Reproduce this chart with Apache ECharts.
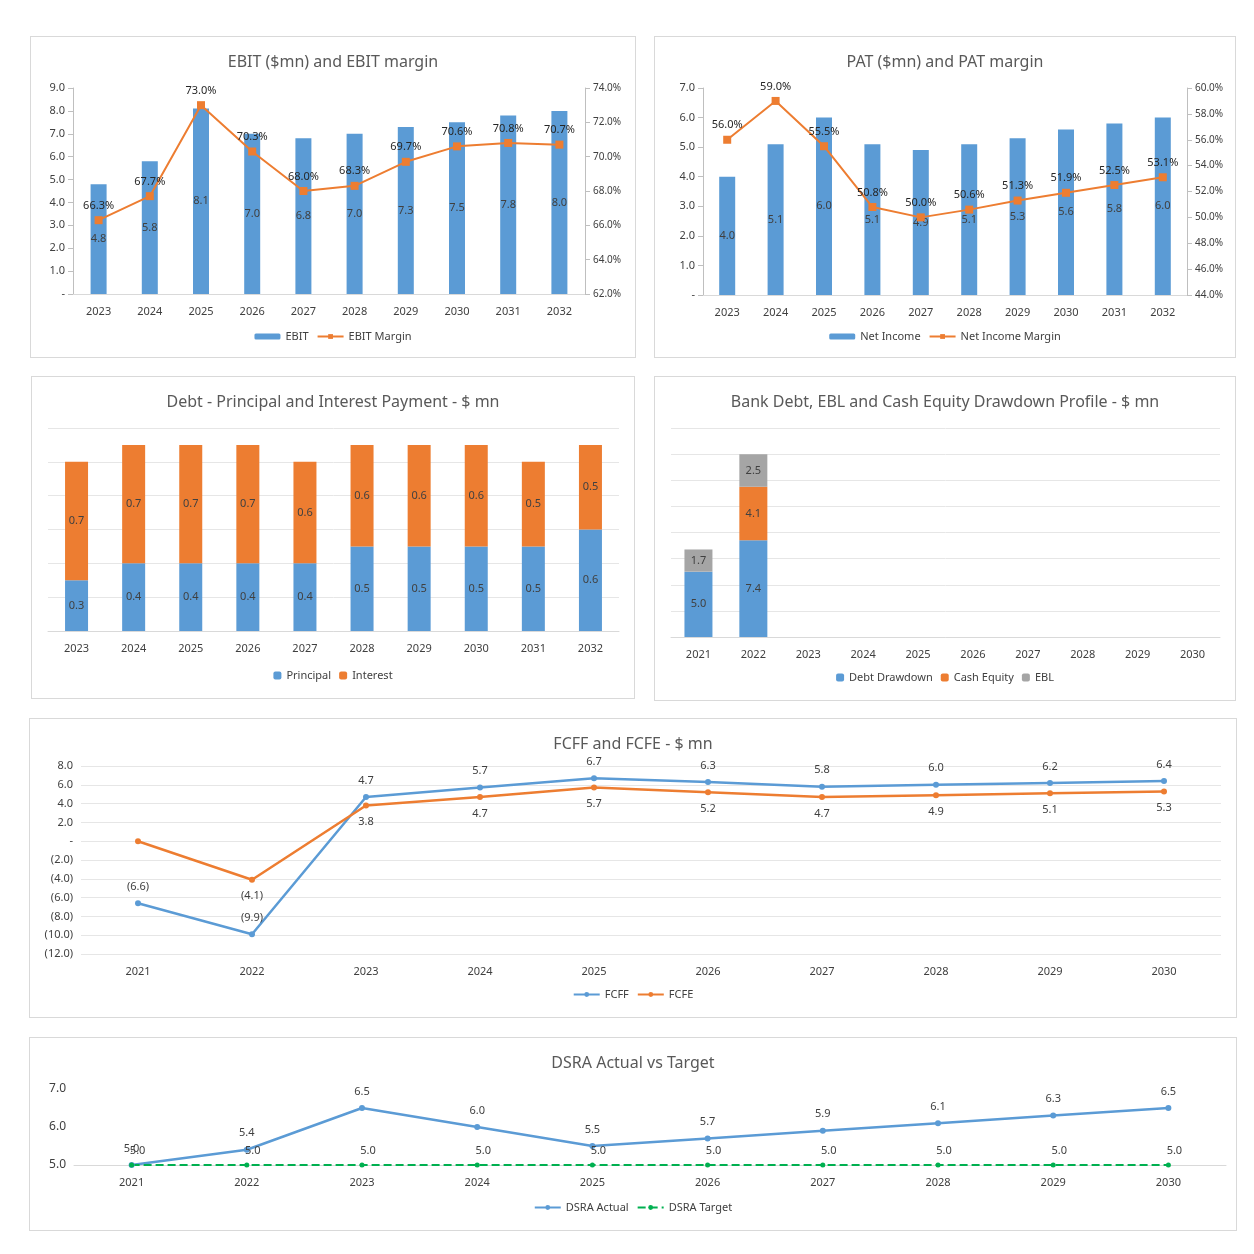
<!DOCTYPE html>
<html>
<head>
<meta charset="utf-8">
<script src="https://cdn.jsdelivr.net/npm/echarts@6/dist/echarts.min.js"></script>
<style>
  body { margin: 0; background: #fff; width: 1254px; height: 1254px; position: relative; }
  .box { position: absolute; border: 1px solid #d9d9d9; box-sizing: border-box; }
</style>
</head>
<body>
<div id="c1" class="box" style="left:30px;top:36px;width:606px;height:322px"></div>
<div id="c2" class="box" style="left:654px;top:36px;width:582px;height:322px"></div>
<div id="c3" class="box" style="left:31px;top:376px;width:604px;height:323px"></div>
<div id="c4" class="box" style="left:654px;top:376px;width:582px;height:325px"></div>
<div id="c5" class="box" style="left:29px;top:718px;width:1208px;height:300px"></div>
<div id="c6" class="box" style="left:29px;top:1037px;width:1208px;height:194px"></div>
<script>
// data
const years23 = ["2023","2024","2025","2026","2027","2028","2029","2030","2031","2032"];
const years21 = ["2021","2022","2023","2024","2025","2026","2027","2028","2029","2030"];
const ebit = [4.8, 5.8, 8.1, 7.0, 6.8, 7.0, 7.3, 7.5, 7.8, 8.0];
const ebitMargin = [66.3, 67.7, 73.0, 70.3, 68.0, 68.3, 69.7, 70.6, 70.8, 70.7];
const netIncome = [4.0, 5.1, 6.0, 5.1, 4.9, 5.1, 5.3, 5.6, 5.8, 6.0];
const niMargin = [56.0, 59.0, 55.5, 50.8, 50.0, 50.6, 51.3, 51.9, 52.5, 53.1];
const principal = [0.3, 0.4, 0.4, 0.4, 0.4, 0.5, 0.5, 0.5, 0.5, 0.6];
const interest = [0.7, 0.7, 0.7, 0.7, 0.6, 0.6, 0.6, 0.6, 0.5, 0.5];
const debtDrawdown = [5.0, 7.4, 0, 0, 0, 0, 0, 0, 0, 0];
const cashEquity = [0, 4.1, 0, 0, 0, 0, 0, 0, 0, 0];
const ebl = [1.7, 2.5, 0, 0, 0, 0, 0, 0, 0, 0];
const fcff = [-6.6, -9.9, 4.7, 5.7, 6.7, 6.3, 5.8, 6.0, 6.2, 6.4];
const fcfe = [0, -4.1, 3.8, 4.7, 5.7, 5.2, 4.7, 4.9, 5.1, 5.3];
const dsraActual = [5.0, 5.4, 6.5, 6.0, 5.5, 5.7, 5.9, 6.1, 6.3, 6.5];
const dsraTarget = [5.0, 5.0, 5.0, 5.0, 5.0, 5.0, 5.0, 5.0, 5.0, 5.0];

const BLUE = "#5b9bd5", ORANGE = "#ed7d31", GRAY = "#a5a5a5", GREEN = "#00b050";
const FONT = "Noto Sans";
const txt = { color: "#404040", fontFamily: FONT, fontSize: 11 };

function titleOf(t) {
  return { text: t, left: "center", top: 12, textStyle: { color: "#595959", fontFamily: FONT, fontSize: 16, fontWeight: "normal" } };
}
function legendOf(names, bottom) {
  return { bottom: bottom, itemWidth: 26, itemHeight: 6, textStyle: txt, data: names };
}
function num(v) {
  if (v === 0) return "-";
  const s = Math.abs(v).toFixed(1);
  return v < 0 ? "(" + s + ")" : s;
}
const catAxis = (data) => ({
  type: "category", data: data,
  axisLine: { lineStyle: { color: "#d9d9d9" } }, axisTick: { show: false },
  axisLabel: Object.assign({ margin: 12 }, txt)
});
const noSplit = { show: false };
const gridSplit = { lineStyle: { color: "#e6e6e6" } };

// EBIT
echarts.init(document.getElementById("c1")).setOption({
  animation: false,
  title: titleOf("EBIT ($mn) and EBIT margin"),
  grid: { left: 42, right: 50, top: 51, bottom: 63 },
  legend: legendOf(["EBIT", "EBIT Margin"], 10),
  xAxis: catAxis(years23),
  yAxis: [
    { type: "value", min: 0, max: 9, interval: 1, splitLine: noSplit,
      axisLine: { show: true, lineStyle: { color: "#bfbfbf" } }, axisTick: { show: true },
      axisLabel: Object.assign({ formatter: num }, txt) },
    { type: "value", min: 62, max: 74, interval: 2, splitLine: noSplit,
      axisLine: { show: true, lineStyle: { color: "#bfbfbf" } }, axisTick: { show: true },
      axisLabel: Object.assign({ formatter: v => v.toFixed(1) + "%" }, txt, { fontSize: 10 }) }
  ],
  series: [
    { name: "EBIT", type: "bar", data: ebit, barWidth: 16, itemStyle: { color: BLUE },
      label: { show: true, position: "inside", formatter: p => p.value.toFixed(1), color: "#404040", fontFamily: FONT, fontSize: 11 } },
    { name: "EBIT Margin", type: "line", yAxisIndex: 1, data: ebitMargin, symbol: "rect", symbolSize: 8,
      itemStyle: { color: ORANGE }, lineStyle: { color: ORANGE, width: 2 },
      label: { show: true, position: "top", formatter: p => p.value.toFixed(1) + "%", color: "#262626", fontFamily: FONT, fontSize: 11 } }
  ]
});

// PAT
echarts.init(document.getElementById("c2")).setOption({
  animation: false,
  title: titleOf("PAT ($mn) and PAT margin"),
  grid: { left: 48, right: 48, top: 51, bottom: 62 },
  legend: legendOf(["Net Income", "Net Income Margin"], 10),
  xAxis: catAxis(years23),
  yAxis: [
    { type: "value", min: 0, max: 7, interval: 1, splitLine: noSplit,
      axisLine: { show: true, lineStyle: { color: "#bfbfbf" } }, axisTick: { show: true },
      axisLabel: Object.assign({ formatter: num }, txt) },
    { type: "value", min: 44, max: 60, interval: 2, splitLine: noSplit,
      axisLine: { show: true, lineStyle: { color: "#bfbfbf" } }, axisTick: { show: true },
      axisLabel: Object.assign({ formatter: v => v.toFixed(1) + "%" }, txt, { fontSize: 10 }) }
  ],
  series: [
    { name: "Net Income", type: "bar", data: netIncome, barWidth: 16, itemStyle: { color: BLUE },
      label: { show: true, position: "inside", formatter: p => p.value.toFixed(1), color: "#404040", fontFamily: FONT, fontSize: 11 } },
    { name: "Net Income Margin", type: "line", yAxisIndex: 1, data: niMargin, symbol: "rect", symbolSize: 8,
      itemStyle: { color: ORANGE }, lineStyle: { color: ORANGE, width: 2 },
      label: { show: true, position: "top", formatter: p => p.value.toFixed(1) + "%", color: "#262626", fontFamily: FONT, fontSize: 11 } }
  ]
});

// Debt principal & interest
const stackLabel = { show: true, position: "inside", formatter: p => p.value.toFixed(1), color: "#404040", fontFamily: FONT, fontSize: 11 };
echarts.init(document.getElementById("c3")).setOption({
  animation: false,
  title: titleOf("Debt - Principal and Interest Payment - $ mn"),
  grid: { left: 16, right: 15, top: 51, bottom: 67 },
  legend: Object.assign(legendOf(["Principal", "Interest"], 12), { itemWidth: 8, itemHeight: 8 }),
  xAxis: catAxis(years23),
  yAxis: { type: "value", min: 0, max: 1.2, interval: 0.2, axisLabel: { show: false }, splitLine: gridSplit },
  series: [
    { name: "Principal", type: "bar", stack: "d", data: principal, barWidth: 23, itemStyle: { color: BLUE }, label: stackLabel },
    { name: "Interest", type: "bar", stack: "d", data: interest, itemStyle: { color: ORANGE }, label: stackLabel }
  ]
});

// Bank debt drawdown
const ddLabel = { show: true, position: "inside", formatter: p => p.value ? p.value.toFixed(1) : "", color: "#404040", fontFamily: FONT, fontSize: 11 };
echarts.init(document.getElementById("c4")).setOption({
  animation: false,
  title: titleOf("Bank Debt, EBL and Cash Equity Drawdown Profile - $ mn"),
  grid: { left: 16, right: 15, top: 51, bottom: 63 },
  legend: Object.assign(legendOf(["Debt Drawdown", "Cash Equity", "EBL"], 12), { itemWidth: 8, itemHeight: 8 }),
  xAxis: catAxis(years21),
  yAxis: { type: "value", min: 0, max: 16, interval: 2, axisLabel: { show: false }, splitLine: gridSplit },
  series: [
    { name: "Debt Drawdown", type: "bar", stack: "d", data: debtDrawdown, barWidth: 28, itemStyle: { color: BLUE }, label: ddLabel },
    { name: "Cash Equity", type: "bar", stack: "d", data: cashEquity, itemStyle: { color: ORANGE }, label: ddLabel },
    { name: "EBL", type: "bar", stack: "d", data: ebl, itemStyle: { color: GRAY }, label: ddLabel }
  ]
});

// FCFF / FCFE
echarts.init(document.getElementById("c5")).setOption({
  animation: false,
  title: Object.assign(titleOf("FCFF and FCFE - $ mn"), { top: 12 }),
  grid: { left: 51, right: 15, top: 47, bottom: 63 },
  legend: legendOf(["FCFF", "FCFE"], 12),
  xAxis: Object.assign(catAxis(years21), { axisLine: { show: false } }),
  yAxis: { type: "value", min: -12, max: 8, interval: 2, splitLine: gridSplit,
    axisLabel: Object.assign({ formatter: num }, txt) },
  series: [
    { name: "FCFF", type: "line", data: fcff, symbol: "circle", symbolSize: 6,
      itemStyle: { color: BLUE }, lineStyle: { color: BLUE, width: 2.5 },
      label: { show: true, position: "top", distance: 8, formatter: p => num(p.value), color: "#404040", fontFamily: FONT, fontSize: 11 } },
    { name: "FCFE", type: "line", data: fcfe, symbol: "circle", symbolSize: 6,
      itemStyle: { color: ORANGE }, lineStyle: { color: ORANGE, width: 2.5 },
      label: { show: true, position: "bottom", distance: 8, formatter: p => p.value === 0 ? "" : num(p.value), color: "#404040", fontFamily: FONT, fontSize: 11 } }
  ]
});

// DSRA
echarts.init(document.getElementById("c6")).setOption({
  animation: false,
  title: titleOf("DSRA Actual vs Target"),
  grid: { left: 44, right: 10, top: 51, bottom: 65 },
  legend: legendOf(["DSRA Actual", "DSRA Target"], 12),
  xAxis: Object.assign(catAxis(years21), { axisLine: { lineStyle: { color: "#d9d9d9" } } }),
  yAxis: { type: "value", min: 5, max: 7, interval: 1, splitLine: noSplit,
    axisLabel: Object.assign({ formatter: v => v.toFixed(1) }, txt, { fontSize: 12 }) },
  series: [
    { name: "DSRA Actual", type: "line", data: dsraActual, symbol: "circle", symbolSize: 6,
      itemStyle: { color: BLUE }, lineStyle: { color: BLUE, width: 2.5 },
      label: { show: true, position: "top", distance: 8, formatter: p => p.value.toFixed(1), color: "#404040", fontFamily: FONT, fontSize: 11 } },
    { name: "DSRA Target", type: "line", data: dsraTarget, symbol: "circle", symbolSize: 5,
      itemStyle: { color: GREEN }, lineStyle: { color: GREEN, width: 2, type: "dashed" },
      label: { show: true, position: "top", distance: 4, offset: [6, -2], formatter: p => p.value.toFixed(1), color: "#404040", fontFamily: FONT, fontSize: 11 } }
  ]
});
</script>
</body>
</html>
